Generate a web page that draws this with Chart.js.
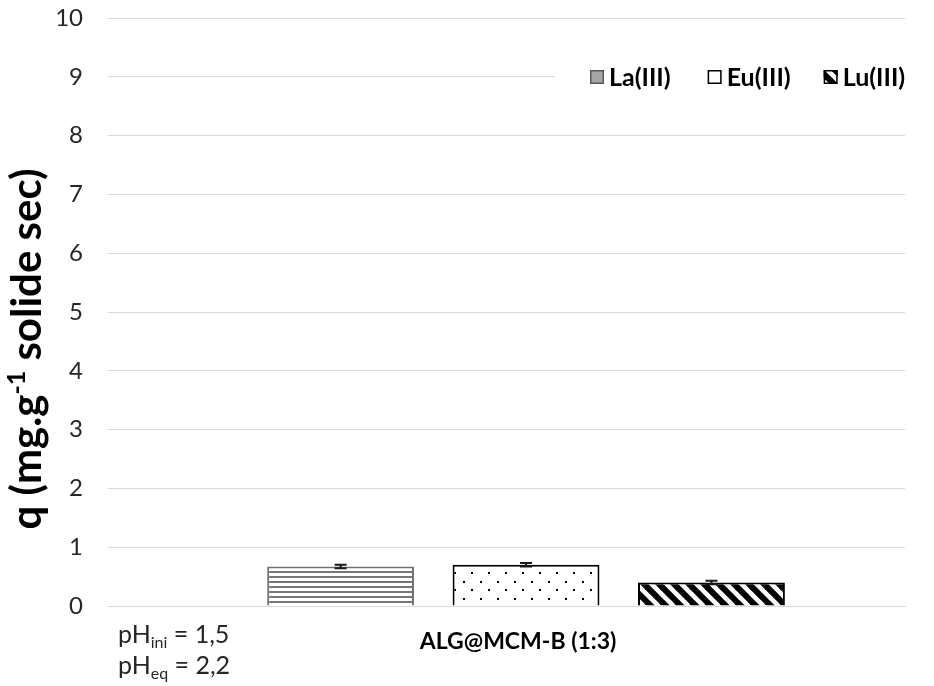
<!DOCTYPE html>
<html><head><meta charset="utf-8">
<script src="https://cdn.jsdelivr.net/npm/chart.js@4.4.1/dist/chart.umd.min.js"></script>
<style>html,body{margin:0;padding:0;background:#fff;}#wrap{width:934px;height:686px;position:relative;}</style>
</head><body><div id="wrap"><canvas id="c" width="934" height="686"></canvas></div>
<script>
// ---- data ----
const categories = ['ALG@MCM-B (1:3)'];
const seriesNames = ['La(III)', 'Eu(III)', 'Lu(III)'];
const laValues = [0.67];
const euValues = [0.70];
const luValues = [0.40];
const laErrors = [0.03];
const euErrors = [0.03];
const luErrors = [0.03];
const yMin = 0, yMax = 10, yStep = 1;
const yTitleParts = ['q (mg.g', '-1', ' solide sec)'];
const phLines = [['pH', 'ini', ' = 1,5'], ['pH', 'eq', ' = 2,2']];

const FONT = 'Lato, "Open Sans", sans-serif';
const TXT = '#262626';

function makePattern(kind) {
  const c = document.createElement('canvas');
  const x = c.getContext('2d');
  if (kind === 'h') {
    c.width = 8; c.height = 5;
    x.fillStyle = '#fff'; x.fillRect(0, 0, 8, 5);
    x.fillStyle = '#777'; x.fillRect(0, 1, 8, 2);
  } else if (kind === 'dots') {
    c.width = 17; c.height = 17;
    x.fillStyle = '#fff'; x.fillRect(0, 0, 17, 17);
    x.fillStyle = '#000';
    x.fillRect(4, 3, 2, 2); x.fillRect(12, 11, 2, 2);
  } else {
    const T = 15; c.width = T; c.height = T;
    x.fillStyle = '#fff'; x.fillRect(0, 0, T, T);
    x.strokeStyle = '#000'; x.lineWidth = 6;
    for (const o of [-T, 0, T]) { x.beginPath(); x.moveTo(o - 2, -2); x.lineTo(o + T + 2, T + 2); x.stroke(); }
  }
  return x.createPattern(c, 'repeat');
}
const patH = makePattern('h'), patDots = makePattern('dots'), patDiag = makePattern('diag');

const errorSets = [laErrors, euErrors, luErrors];
const legendFills = ['#a6a6a6', '#ffffff', patDiag];
const legendBorders = ['#595959', '#000', '#000'];

const errorBarPlugin = {
  id: 'errorBars',
  afterDatasetsDraw(chart) {
    const ctx = chart.ctx, ys = chart.scales.y;
    ctx.save();
    ctx.strokeStyle = '#1a1a1a'; ctx.lineWidth = 2;
    chart.data.datasets.forEach((ds, i) => {
      const meta = chart.getDatasetMeta(i);
      meta.data.forEach((bar, j) => {
        const v = ds.data[j], e = errorSets[i][j];
        const yt = ys.getPixelForValue(v + e), yb = ys.getPixelForValue(v - e);
        const x = bar.x, w = 6;
        ctx.beginPath();
        ctx.moveTo(x, yt); ctx.lineTo(x, yb);
        ctx.moveTo(x - w, yt); ctx.lineTo(x + w, yt);
        ctx.moveTo(x - w, yb); ctx.lineTo(x + w, yb);
        ctx.stroke();
      });
    });
    ctx.restore();
  }
};

const decorPlugin = {
  id: 'decor',
  afterDraw(chart) {
    const ctx = chart.ctx;
    ctx.save();
    // legend (inside plot, top right)
    ctx.fillStyle = '#fff';
    ctx.fillRect(555, 60, 370, 36);
    ctx.font = 'bold 25px ' + FONT;
    ctx.textBaseline = 'middle';
    const gaps = [0, 37, 33];
    let x = 590; const yMid = 77;
    chart.data.datasets.forEach((ds, i) => {
      x += gaps[i];
      ctx.fillStyle = legendFills[i];
      ctx.fillRect(x, yMid - 7, 14, 14);
      ctx.strokeStyle = legendBorders[i]; ctx.lineWidth = 1.5;
      ctx.strokeRect(x + 0.75, yMid - 6.25, 12.5, 12.5);
      ctx.fillStyle = '#000';
      ctx.textAlign = 'left';
      ctx.fillText(ds.label, x + 19, yMid + 1);
      x += 19 + ctx.measureText(ds.label).width;
    });
    // y-axis title with superscript
    ctx.save();
    ctx.translate(41, 349);
    ctx.rotate(-Math.PI / 2);
    const big = 'bold 42px ' + FONT, small = 'bold 25px ' + FONT;
    ctx.font = big; const w0 = ctx.measureText(yTitleParts[0]).width; const w2 = ctx.measureText(yTitleParts[2]).width;
    ctx.font = small; const w1 = ctx.measureText(yTitleParts[1]).width;
    let sx = -(w0 + w1 + w2) / 2;
    ctx.fillStyle = '#000'; ctx.textBaseline = 'alphabetic'; ctx.textAlign = 'left';
    ctx.font = big; ctx.fillText(yTitleParts[0], sx, 0); sx += w0;
    ctx.font = small; ctx.fillText(yTitleParts[1], sx, -16); sx += w1;
    ctx.font = big; ctx.fillText(yTitleParts[2], sx, 0);
    ctx.restore();
    // pH notes
    ctx.fillStyle = TXT; ctx.textAlign = 'left'; ctx.textBaseline = 'alphabetic';
    phLines.forEach((p, k) => {
      const by = 643 + k * 31;
      let px = 118;
      ctx.font = '25px ' + FONT; ctx.fillText(p[0], px, by); px += ctx.measureText(p[0]).width;
      ctx.font = '16px ' + FONT; ctx.fillText(p[1], px, by + 5); px += ctx.measureText(p[1]).width;
      ctx.font = '25px ' + FONT; ctx.fillText(p[2], px, by);
    });
    ctx.restore();
  }
};

new Chart(document.getElementById('c'), {
  type: 'bar',
  data: {
    labels: categories,
    datasets: [
      { label: seriesNames[0], data: laValues, backgroundColor: patH, borderColor: '#767171', borderWidth: 2 },
      { label: seriesNames[1], data: euValues, backgroundColor: patDots, borderColor: '#000', borderWidth: 2 },
      { label: seriesNames[2], data: luValues, backgroundColor: patDiag, borderColor: '#000', borderWidth: 2 }
    ]
  },
  options: {
    responsive: false, animation: false,
    layout: { padding: { top: 18, right: 29, left: 0, bottom: 0 } },
    categoryPercentage: 0.698, barPercentage: 0.792,
    plugins: { legend: { display: false }, tooltip: { enabled: false } },
    scales: {
      x: {
        grid: { display: false, drawTicks: false },
        border: { display: true, color: '#d9d9d9', width: 1 },
        ticks: { color: '#000', font: { family: FONT, size: 23, weight: 'bold' }, padding: 22, labelOffset: -8 },
        afterFit(s) { s.height = 80; s.paddingLeft = 0; s.paddingRight = 0; },
        afterBuildTicks(s) { s._startValue -= 0.0245; }
      },
      y: {
        min: yMin, max: yMax,
        ticks: { stepSize: yStep, color: TXT, font: { family: FONT, size: 24 }, padding: 25 },
        grid: { color: '#d9d9d9', lineWidth: 1, drawTicks: false },
        border: { display: false },
        afterFit(s) { s.width = 108; s.paddingTop = 0; s.paddingBottom = 0; }
      }
    }
  },
  plugins: [errorBarPlugin, decorPlugin]
});
</script></body></html>
